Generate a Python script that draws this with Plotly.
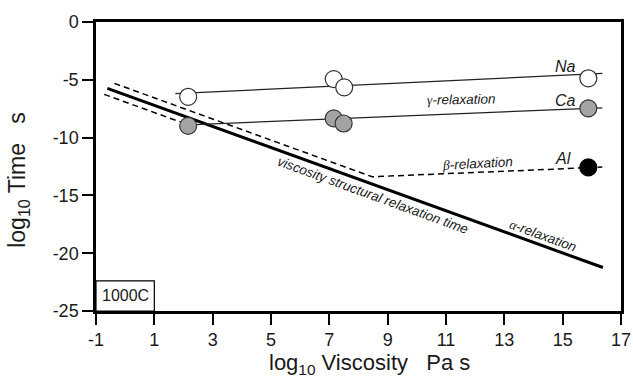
import plotly.graph_objects as go

# Relaxation-time lines (log10 viscosity, log10 time)
alpha_x = [-0.61, 16.38]
alpha_y = [-5.74, -21.24]

upper_dash_x = [-0.37, 8.47, 16.36]
upper_dash_y = [-5.31, -13.39, -12.55]

lower_dash_x = [-0.72, 1.95]
lower_dash_y = [-6.26, -8.70]

na_fit_x = [1.72, 16.36]
na_fit_y = [-6.20, -4.45]

ca_fit_x = [2.16, 16.36]
ca_fit_y = [-8.90, -7.42]

# Measured points
na_x = [2.16, 7.15, 7.51, 15.88]
na_y = [-6.47, -4.94, -5.65, -4.87]

ca_x = [2.16, 7.15, 7.49, 15.88]
ca_y = [-8.99, -8.34, -8.78, -7.47]

al_x = [15.88]
al_y = [-12.58]

x_ticks = [-1, 1, 3, 5, 7, 9, 11, 13, 15, 17]
x_ticktext = ["-1", "1", "3", "5", "7", "9", "11", "13", "15", "17"]
y_ticks = [0, -5, -10, -15, -20, -25]
y_ticktext = ["0", "-5", "-10", "-15", "-20", "-25"]

FONT = "Liberation Sans, Arial, sans-serif"
GREEK = "font-family:'Liberation Serif', 'DejaVu Serif', serif"
SP = "\u00a0"

fig = go.Figure()

fig.add_trace(go.Scatter(x=alpha_x, y=alpha_y, mode="lines",
                         line=dict(color="black", width=3)))
fig.add_trace(go.Scatter(x=upper_dash_x, y=upper_dash_y, mode="lines",
                         line=dict(color="black", width=1.5, dash="6px,4px")))
fig.add_trace(go.Scatter(x=lower_dash_x, y=lower_dash_y, mode="lines",
                         line=dict(color="black", width=1.5, dash="6px,4px")))
fig.add_trace(go.Scatter(x=na_fit_x, y=na_fit_y, mode="lines",
                         line=dict(color="#222222", width=1.3)))
fig.add_trace(go.Scatter(x=ca_fit_x, y=ca_fit_y, mode="lines",
                         line=dict(color="#222222", width=1.3)))

fig.add_trace(go.Scatter(x=na_x, y=na_y, mode="markers",
                         marker=dict(size=17, color="white",
                                     line=dict(color="#333333", width=1.2))))
fig.add_trace(go.Scatter(x=ca_x, y=ca_y, mode="markers",
                         marker=dict(size=17, color="#a3a3a3",
                                     line=dict(color="#333333", width=1.2))))
fig.add_trace(go.Scatter(x=al_x, y=al_y, mode="markers",
                         marker=dict(size=17, color="black",
                                     line=dict(color="black", width=1.2))))

annotations = [
    dict(x=15.1, y=-3.87, text="<i>Na</i>", font=dict(size=16)),
    dict(x=15.08, y=-6.75, text="<i>Ca</i>", font=dict(size=16)),
    dict(x=15.0, y=-11.8, text="<i>Al</i>", font=dict(size=16)),
    dict(x=11.5, y=-6.67, text=f"<span style=\"{GREEK}\"><i>γ</i></span><i>-relaxation</i>",
         font=dict(size=13.5), textangle=-1),
    dict(x=12.07, y=-12.23, text=f"<span style=\"{GREEK}\"><i>β</i></span><i>-relaxation</i>",
         font=dict(size=13.5), textangle=-3),
    dict(x=8.51, y=-14.98, text="<i>viscosity structural relaxation time</i>",
         font=dict(size=13.5), textangle=20),
    dict(x=14.31, y=-18.44, text=f"<span style=\"{GREEK}\"><i>α</i></span><i>-relaxation</i>",
         font=dict(size=13.5), textangle=20),
    dict(x=0, y=-23.7, text="1000C", font=dict(size=16)),
]
for a in annotations:
    a.update(xref="x", yref="y", showarrow=False)

# Axis titles
annotations.append(dict(xref="paper", yref="paper", x=0.52, y=-0.185,
                        xanchor="center", yanchor="middle", showarrow=False,
                        text=f"log<sub>10</sub> Viscosity{SP*3}Pa s",
                        font=dict(size=22)))
annotations.append(dict(xref="paper", yref="paper", x=-0.148, y=0.455,
                        xanchor="center", yanchor="middle", showarrow=False,
                        text=f"log<sub>10</sub> Time{SP*3}s", textangle=-90,
                        font=dict(size=23)))

axis_style = dict(showgrid=False, zeroline=False, showline=True, mirror=True,
                  linecolor="black", linewidth=2.5, ticks="outside", ticklen=11,
                  tickwidth=1.5, tickcolor="black", tickfont=dict(size=18),
                  automargin=False)

fig.update_layout(
    width=633, height=379,
    margin=dict(l=96, r=12, t=22, b=68),
    paper_bgcolor="white", plot_bgcolor="white",
    showlegend=False,
    font=dict(family=FONT, color="#1a1a1a"),
    annotations=annotations,
    shapes=[dict(type="rect", xref="x", yref="y", x0=-1, x1=1, y0=-25, y1=-22.4,
                 line=dict(color="black", width=1.2))],
)
fig.update_xaxes(range=[-1, 17], tickvals=x_ticks, ticktext=x_ticktext, **axis_style)
fig.update_yaxes(range=[-25, 0], tickvals=y_ticks, ticktext=y_ticktext, **axis_style)

fig.write_html("out.html")
